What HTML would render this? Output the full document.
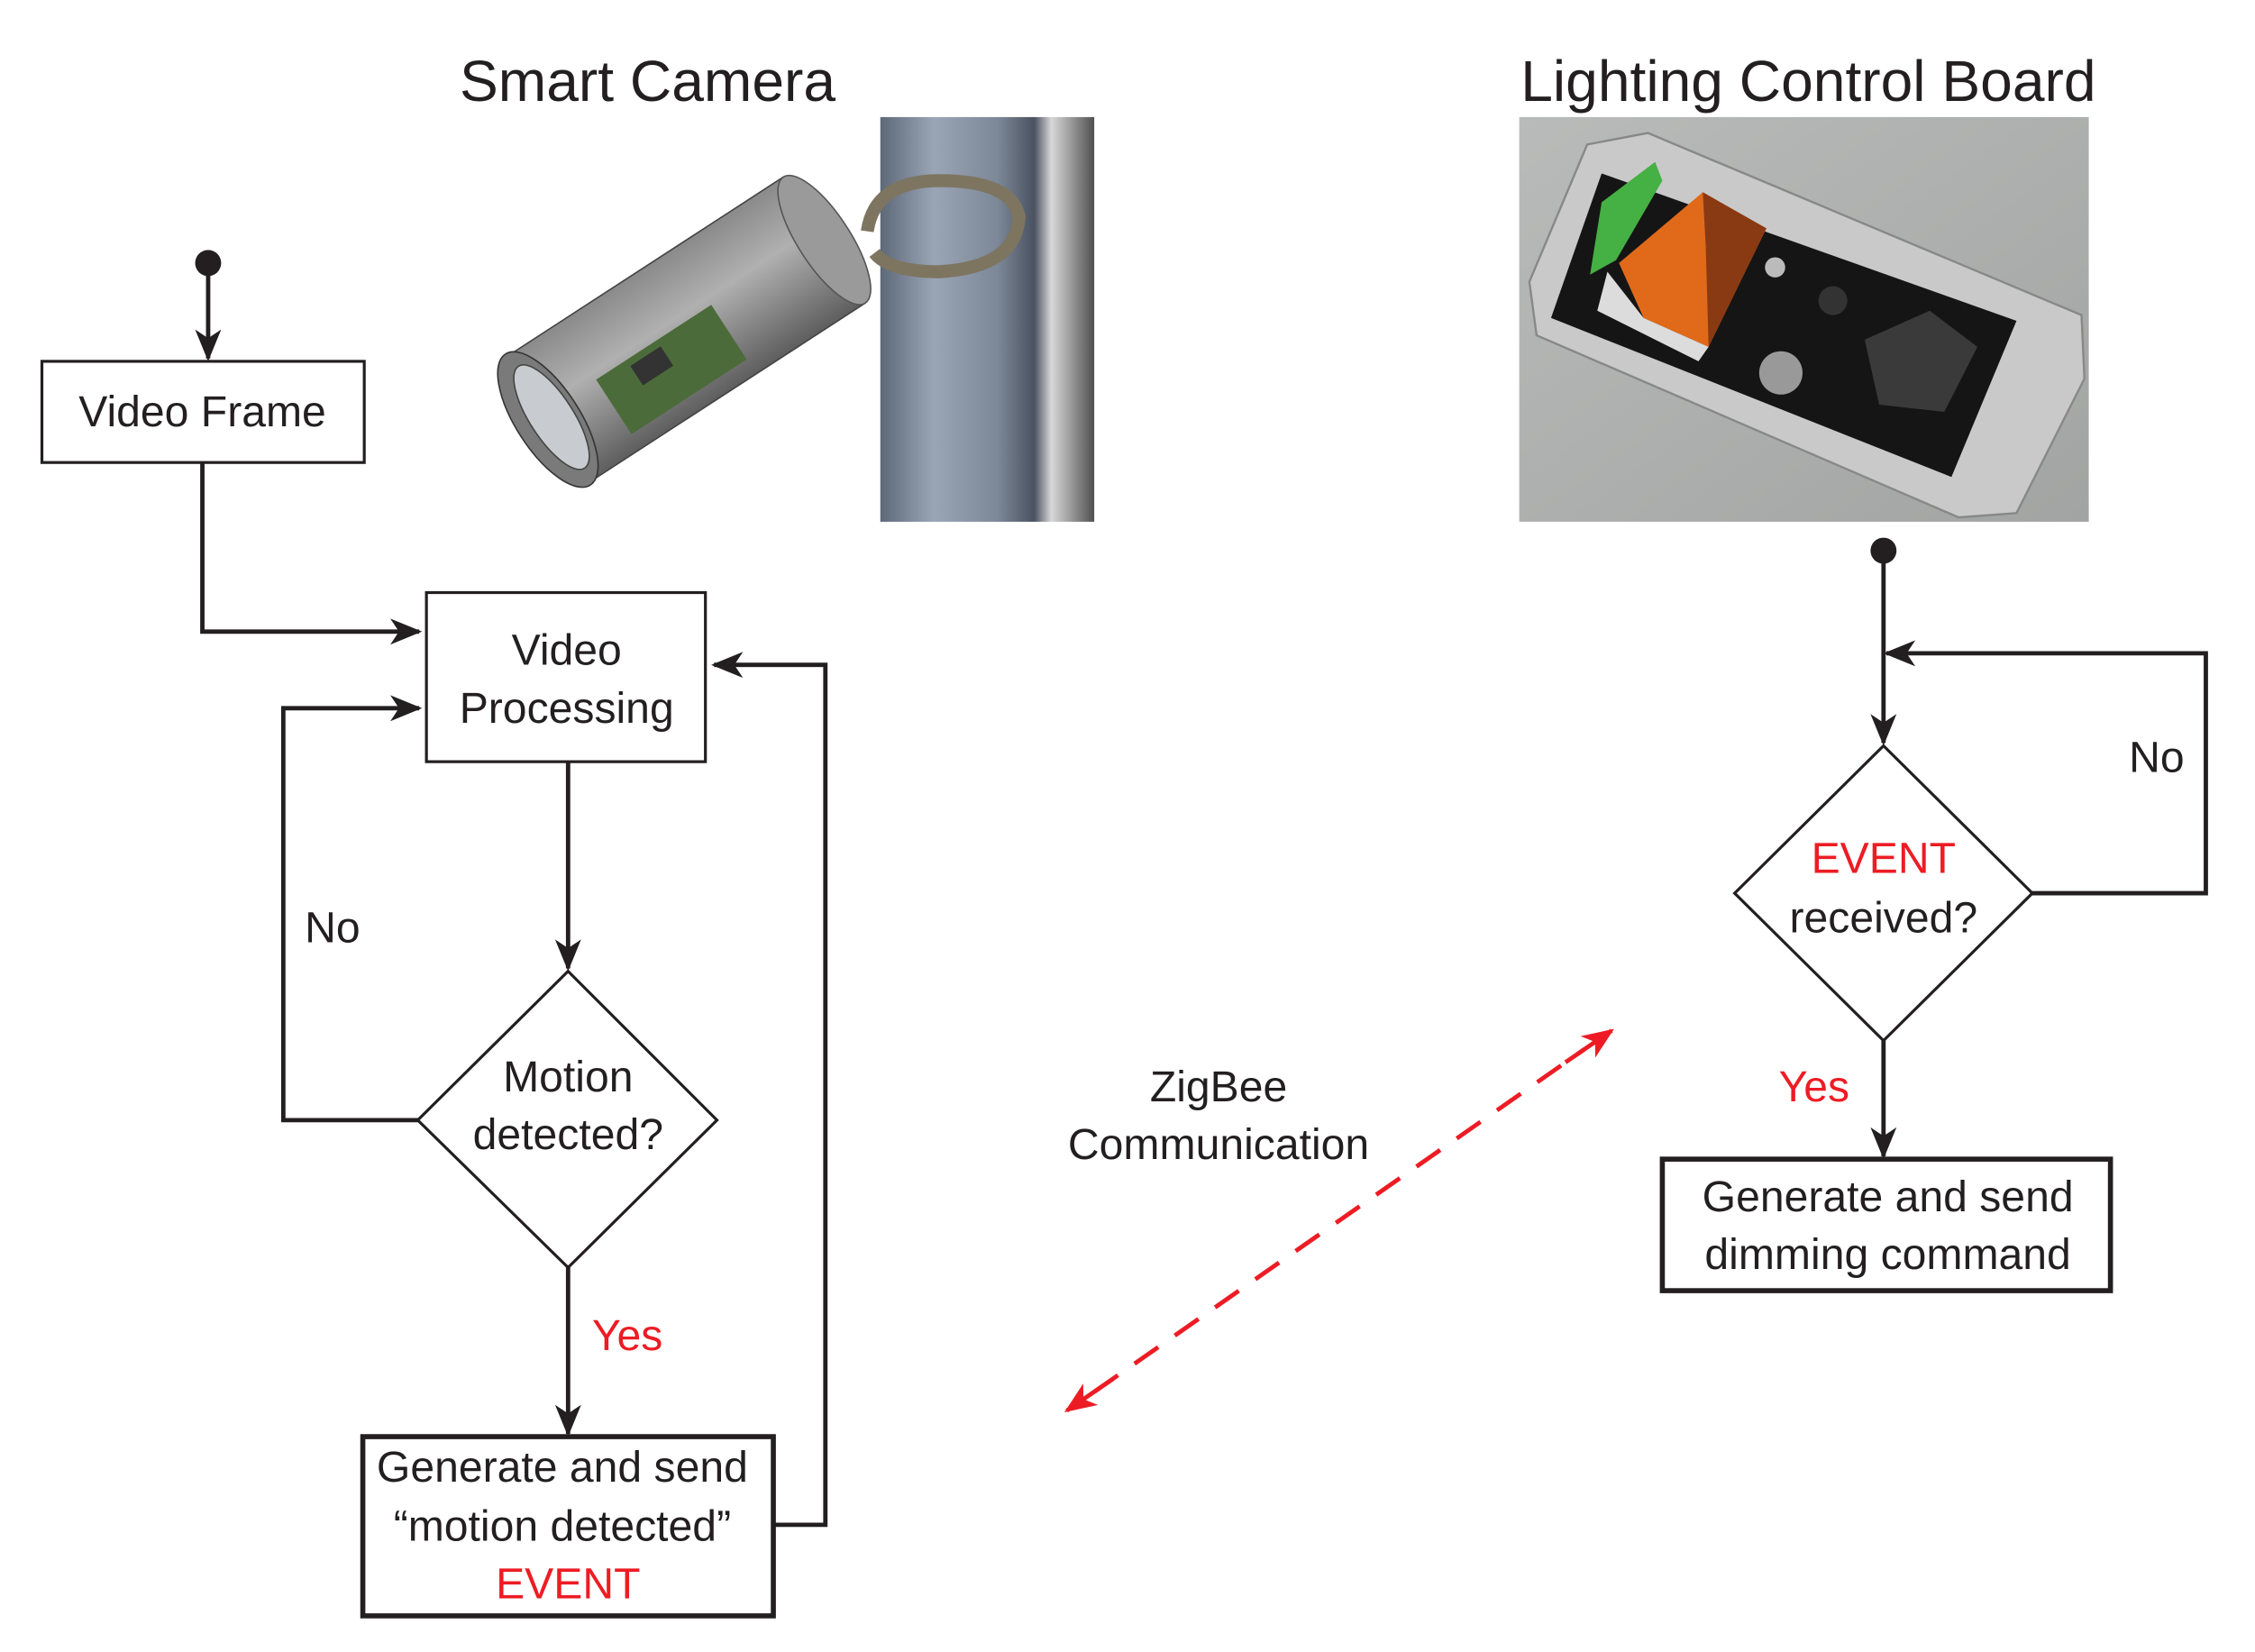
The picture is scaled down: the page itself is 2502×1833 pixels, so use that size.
<!DOCTYPE html>
<html><head><meta charset="utf-8"><style>
html,body{margin:0;padding:0;background:#fff}
svg{display:block}
text{font-family:"Liberation Sans",sans-serif;fill:#231f20}
</style></head><body>
<svg width="2502" height="1833" viewBox="0 0 1560 1143" preserveAspectRatio="none" xmlns="http://www.w3.org/2000/svg">
<defs>
<linearGradient id="pole" x1="0" x2="1" y1="0" y2="0">
<stop offset="0" stop-color="#5d6878"/><stop offset="0.25" stop-color="#9aa5b5"/><stop offset="0.55" stop-color="#7c8797"/><stop offset="0.72" stop-color="#4a5260"/><stop offset="0.8" stop-color="#d8d8d8"/><stop offset="1" stop-color="#505050"/>
</linearGradient>
<linearGradient id="cyl" x1="0" x2="0" y1="0" y2="1">
<stop offset="0" stop-color="#8a8a8a"/><stop offset="0.4" stop-color="#b0b0b0"/><stop offset="1" stop-color="#5e5e5e"/>
</linearGradient>
<linearGradient id="bg2" x1="0" x2="1" y1="0" y2="1">
<stop offset="0" stop-color="#b9bbba"/><stop offset="1" stop-color="#a2a4a3"/>
</linearGradient>
<marker id="ar2" markerWidth="22" markerHeight="22" refX="20" refY="11" orient="auto" markerUnits="userSpaceOnUse" viewBox="0 0 22 22">
<path d="M0,2 L22,11 L0,20 L6,11 Z" fill="#231f20"/></marker>
<marker id="rar" markerWidth="22" markerHeight="22" refX="20" refY="11" orient="auto" markerUnits="userSpaceOnUse" viewBox="0 0 22 22">
<path d="M0,2 L22,11 L0,20 L6,11 Z" fill="#ed1c24"/></marker>
</defs>

<text x="448" y="70" font-size="40" text-anchor="middle">Smart Camera</text>
<text x="1251" y="70" font-size="40" text-anchor="middle">Lighting Control Board</text>

<!-- camera -->
<rect x="609" y="81" width="148" height="280" fill="url(#pole)"/>
<path d="M600,160 Q605,125 650,125 Q700,125 705,150 Q703,185 650,188 Q615,188 605,175" fill="none" stroke="#7d7560" stroke-width="9"/>
<g transform="translate(478,226) rotate(-33)">
<rect x="-118" y="-52" width="228" height="104" fill="url(#cyl)" stroke="#444" stroke-width="1"/>
<ellipse cx="110" cy="0" rx="18" ry="52" fill="#9a9a9a" stroke="#555"/>
<rect x="-75" y="-5" width="95" height="45" fill="#4c6b3a"/>
<rect x="-50" y="0" width="25" height="16" fill="#333"/>
<ellipse cx="-118" cy="0" rx="22" ry="54" fill="#7a7a7a" stroke="#333"/>
<ellipse cx="-115" cy="0" rx="15" ry="42" fill="#c8ccd0" stroke="#444"/>
</g>

<!-- board -->
<rect x="1051" y="81" width="394" height="280" fill="url(#bg2)"/>
<path d="M1058,195 L1098,100 L1140,92 L1440,218 L1442,262 L1395,355 L1355,358 L1063,232 Z" fill="#c9c9c9" stroke="#888" stroke-width="1.5"/>
<path d="M1108,120 L1395,222 L1350,330 L1073,220 Z" fill="#151515"/>
<path d="M1120,182 L1178,133 L1222,158 L1182,240 L1137,220 Z" fill="#e06a1a"/>
<path d="M1178,133 L1222,158 L1182,240 L1180,170 Z" fill="#8a3a12"/>
<path d="M1112,188 L1137,220 L1182,240 L1175,250 L1105,215 Z" fill="#dcdcdc"/>
<path d="M1108,140 L1145,112 L1150,125 L1118,180 L1100,190 Z" fill="#45b043"/>
<path d="M1290,235 L1335,215 L1368,240 L1345,285 L1300,280 Z" fill="#3a3a3a"/>
<circle cx="1232" cy="258" r="15" fill="#999"/>
<circle cx="1228" cy="185" r="7" fill="#bbb"/>
<circle cx="1268" cy="208" r="10" fill="#333"/>

<!-- left flowchart -->
<g stroke="#231f20" stroke-width="3" fill="none">
<line x1="144" y1="182" x2="144" y2="248" marker-end="url(#ar2)"/>
<rect x="29" y="250" width="223" height="70" stroke-width="2"/>
<polyline points="140,320 140,437 290,437" marker-end="url(#ar2)"/>
<rect x="295" y="410" width="193" height="117" stroke-width="2"/>
<line x1="393" y1="527" x2="393" y2="670" marker-end="url(#ar2)"/>
<polygon points="393,672 496,775 393,877 289,775" stroke-width="2"/>
<polyline points="289,775 196,775 196,490 290,490" marker-end="url(#ar2)"/>
<line x1="393" y1="877" x2="393" y2="992" marker-end="url(#ar2)"/>
<rect x="251" y="994" width="284" height="124" stroke-width="3.5"/>
<polyline points="535,1055 571,1055 571,460 494,460" marker-end="url(#ar2)"/>
</g>
<circle cx="144" cy="182" r="9" fill="#231f20"/>
<text x="140" y="295" font-size="30" text-anchor="middle">Video Frame</text>
<text x="392" y="460" font-size="30" text-anchor="middle">Video</text>
<text x="392" y="500" font-size="30" text-anchor="middle">Processing</text>
<text x="393" y="755" font-size="30" text-anchor="middle">Motion</text>
<text x="393" y="795" font-size="30" text-anchor="middle">detected?</text>
<text x="230" y="652" font-size="30" text-anchor="middle">No</text>
<text x="434" y="934" font-size="30" text-anchor="middle" style="fill:#ed1c24">Yes</text>
<text x="389" y="1025" font-size="30" text-anchor="middle">Generate and send</text>
<text x="389" y="1066" font-size="30" text-anchor="middle">“motion detected”</text>
<text x="393" y="1106" font-size="30" text-anchor="middle" style="fill:#ed1c24">EVENT</text>

<!-- right flowchart -->
<g stroke="#231f20" stroke-width="3" fill="none">
<line x1="1303" y1="381" x2="1303" y2="514" marker-end="url(#ar2)"/>
<polygon points="1303,516 1406,618 1303,720 1200,618" stroke-width="2"/>
<polyline points="1406,618 1526,618 1526,452 1305,452" marker-end="url(#ar2)"/>
<line x1="1303" y1="720" x2="1303" y2="800" marker-end="url(#ar2)"/>
<rect x="1150" y="802" width="310" height="91" stroke-width="3.5"/>
</g>
<circle cx="1303" cy="381" r="9" fill="#231f20"/>
<text x="1303" y="604" font-size="30" text-anchor="middle" style="fill:#ed1c24">EVENT</text>
<text x="1303" y="645" font-size="30" text-anchor="middle">received?</text>
<text x="1492" y="534" font-size="30" text-anchor="middle">No</text>
<text x="1255" y="762" font-size="30" text-anchor="middle" style="fill:#ed1c24">Yes</text>
<text x="1306" y="838" font-size="30" text-anchor="middle">Generate and send</text>
<text x="1306" y="878" font-size="30" text-anchor="middle">dimming command</text>

<!-- ZigBee -->
<text x="843" y="762" font-size="30" text-anchor="middle">ZigBee</text>
<text x="843" y="802" font-size="30" text-anchor="middle">Communication</text>
<line x1="757" y1="963" x2="1096" y2="726" stroke="#ed1c24" stroke-width="3" stroke-dasharray="20,14"/>
<line x1="770" y1="954" x2="738" y2="976" stroke="#ed1c24" stroke-width="3" marker-end="url(#rar)"/>
<line x1="1083" y1="735" x2="1115" y2="713" stroke="#ed1c24" stroke-width="3" marker-end="url(#rar)"/>
</svg>
</body></html>
